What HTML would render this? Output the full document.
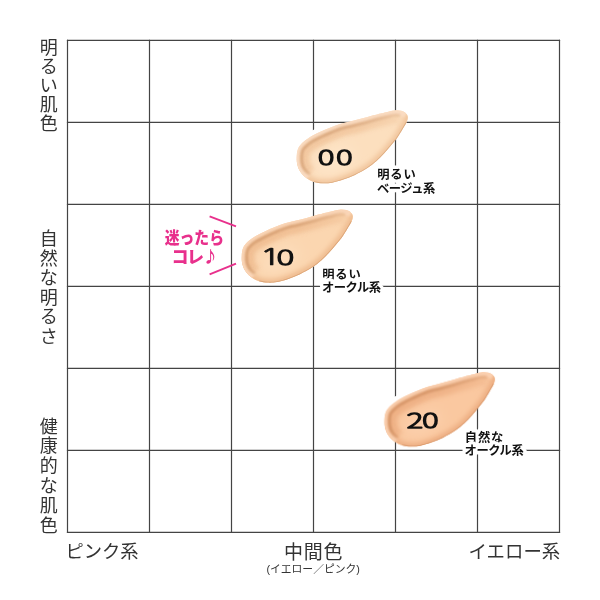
<!DOCTYPE html>
<html lang="ja"><head><meta charset="utf-8"><title>カラーチャート</title>
<style>
html,body{margin:0;padding:0;background:#fff;}
body{width:600px;height:600px;overflow:hidden;font-family:"Liberation Sans","Noto Sans CJK JP",sans-serif;}
svg{display:block}
text{font-family:"Liberation Sans","Noto Sans CJK JP",sans-serif;}
.ax{fill:#333;font-weight:400;}
.lb2{letter-spacing:-0.5px;}
.lb1{letter-spacing:0.8px;}
.lb{fill:#111;font-weight:700;font-size:12.3px;stroke:#fff;stroke-width:7px;paint-order:stroke fill;stroke-linejoin:round;}
.num{fill:#111;stroke:#111;stroke-width:1.9px;stroke-linejoin:round;vector-effect:non-scaling-stroke;font-family:"Noto Sans CJK JP","Liberation Sans",sans-serif;font-weight:100;font-size:20.5px;}
.num tspan{vector-effect:non-scaling-stroke;}
.one{stroke-width:0.8px;font-family:"NanumGothic","Liberation Sans",sans-serif;font-size:22.5px;font-weight:400;}
.pk{fill:#e8308c;font-weight:900;font-size:17px;stroke:#fff;stroke-width:3px;paint-order:stroke fill;stroke-linejoin:round;}
</style></head><body>
<svg width="600" height="600" viewBox="0 0 600 600">
<defs>
<clipPath id="cp"><path d="M296.7 158.0 C296.7 155.3 296.9 152.1 297.7 149.8 C298.4 147.5 299.4 146.0 301.2 144.0 C303.0 142.0 305.6 139.9 308.7 137.9 C311.8 135.9 316.3 133.8 319.8 132.1 C323.3 130.4 326.5 129.1 329.9 127.7 C333.3 126.3 336.6 125.0 340.0 123.9 C343.4 122.9 346.5 122.3 350.1 121.4 C353.7 120.5 357.8 119.6 361.7 118.6 C365.6 117.6 369.4 116.3 373.3 115.3 C377.2 114.3 381.4 113.2 384.9 112.4 C388.4 111.6 391.6 110.7 394.3 110.4 C397.0 110.1 399.4 110.3 401.3 110.8 C403.2 111.3 404.9 112.4 406.0 113.4 C407.1 114.4 407.7 115.4 407.8 116.9 C407.9 118.4 407.5 120.2 406.6 122.2 C405.7 124.2 404.1 126.5 402.5 129.2 C400.9 131.9 398.7 135.7 396.7 138.5 C394.7 141.3 392.6 143.5 390.5 146.0 C388.4 148.5 386.3 151.0 384.0 153.5 C381.7 156.0 379.3 158.5 376.5 161.0 C373.7 163.5 370.6 166.0 367.0 168.3 C363.4 170.6 358.9 173.0 355.0 174.9 C351.1 176.8 347.1 178.3 343.3 179.6 C339.5 180.9 335.4 182.1 332.0 182.7 C328.6 183.3 326.0 183.4 323.0 183.3 C320.0 183.2 316.7 182.8 314.0 182.0 C311.3 181.2 309.1 180.0 307.0 178.5 C304.9 177.0 302.8 175.1 301.2 173.0 C299.6 170.9 298.4 168.5 297.7 166.0 C296.9 163.5 296.7 160.7 296.7 158.0Z"/></clipPath>
<filter id="bl" x="-20%" y="-20%" width="140%" height="140%"><feGaussianBlur stdDeviation="2.5"/></filter>
<filter id="bl1" x="-20%" y="-20%" width="140%" height="140%"><feGaussianBlur stdDeviation="1.2"/></filter>
<linearGradient id="fg" gradientUnits="userSpaceOnUse" x1="296" y1="0" x2="404" y2="0">
<stop offset="0" stop-color="#fff"/><stop offset="0.5" stop-color="#eee"/><stop offset="0.8" stop-color="#aaa"/><stop offset="1" stop-color="#555"/></linearGradient>
<mask id="fade" maskUnits="userSpaceOnUse" x="270" y="85" width="160" height="110"><path d="M280 176 L280 92 L418 92 L410 128 L352 146 L324 160 L318 176 Z" fill="url(#fg)" filter="url(#bl4)"/></mask>
<filter id="bl4" x="-20%" y="-20%" width="140%" height="140%"><feGaussianBlur stdDeviation="4"/></filter>
<filter id="bl2b" x="-20%" y="-20%" width="140%" height="140%"><feGaussianBlur stdDeviation="2"/></filter>
<filter id="bl15" x="-20%" y="-20%" width="140%" height="140%"><feGaussianBlur stdDeviation="1.6"/></filter>
<filter id="bl08" x="-20%" y="-20%" width="140%" height="140%"><feGaussianBlur stdDeviation="0.8"/></filter>
<filter id="bl05" x="-20%" y="-20%" width="140%" height="140%"><feGaussianBlur stdDeviation="0.6"/></filter>
<filter id="soft" x="-5%" y="-5%" width="110%" height="110%"><feGaussianBlur stdDeviation="0.5"/></filter>
<filter id="bl2" x="-50%" y="-50%" width="200%" height="200%"><feGaussianBlur stdDeviation="7"/></filter>
</defs>
<rect width="600" height="600" fill="#fff"/>
<g stroke="#444" stroke-width="1.2" fill="none">
<line x1="67.50" y1="39.80" x2="67.50" y2="533.00"/>
<line x1="66.90" y1="40.40" x2="560.10" y2="40.40"/>
<line x1="149.50" y1="39.80" x2="149.50" y2="533.00"/>
<line x1="66.90" y1="122.40" x2="560.10" y2="122.40"/>
<line x1="231.50" y1="39.80" x2="231.50" y2="533.00"/>
<line x1="66.90" y1="204.40" x2="560.10" y2="204.40"/>
<line x1="313.50" y1="39.80" x2="313.50" y2="533.00"/>
<line x1="66.90" y1="286.40" x2="560.10" y2="286.40"/>
<line x1="395.50" y1="39.80" x2="395.50" y2="533.00"/>
<line x1="66.90" y1="368.40" x2="560.10" y2="368.40"/>
<line x1="477.50" y1="39.80" x2="477.50" y2="533.00"/>
<line x1="66.90" y1="450.40" x2="560.10" y2="450.40"/>
<line x1="559.50" y1="39.80" x2="559.50" y2="533.00"/>
<line x1="66.90" y1="532.40" x2="560.10" y2="532.40"/>
</g>
<text class="ax" x="48.7 48.7 48.7 48.7 48.7" y="54.2 73.1 91.9 110.8 129.6" text-anchor="middle" font-size="18">明るい肌色</text>
<text class="ax" x="48.7 48.7 48.7 48.7 48.7 48.7" y="245.3 264.8 284.3 303.8 323.3 342.8" text-anchor="middle" font-size="18">自然な明るさ</text>
<text class="ax" x="48.7 48.7 48.7 48.7 48.7 48.7" y="432.6 452.4 472.2 492.0 511.8 531.6" text-anchor="middle" font-size="18">健康的な肌色</text>
<text class="ax" x="65.4" y="558.3" font-size="18.3">ピンク系</text>
<text class="ax" x="313.6" y="559.2" font-size="19" text-anchor="middle" letter-spacing="0.8">中間色</text>
<text class="ax" x="313.2" y="572.5" font-size="10.8" text-anchor="middle">(イエロー／ピンク)</text>
<text class="ax" x="560.2" y="558.4" font-size="18.4" text-anchor="end">イエロー系</text>

<g transform="translate(0 0) rotate(0 296 158)">
<path d="M299.2 139.5 L306.7 133.4 L317.8 127.6 L319.8 132.1 L301.2 144.0 Z" fill="#fff"/>
<g filter="url(#soft)">
<path d="M296.7 158.0 C296.7 155.3 296.9 152.1 297.7 149.8 C298.4 147.5 299.4 146.0 301.2 144.0 C303.0 142.0 305.6 139.9 308.7 137.9 C311.8 135.9 316.3 133.8 319.8 132.1 C323.3 130.4 326.5 129.1 329.9 127.7 C333.3 126.3 336.6 125.0 340.0 123.9 C343.4 122.9 346.5 122.3 350.1 121.4 C353.7 120.5 357.8 119.6 361.7 118.6 C365.6 117.6 369.4 116.3 373.3 115.3 C377.2 114.3 381.4 113.2 384.9 112.4 C388.4 111.6 391.6 110.7 394.3 110.4 C397.0 110.1 399.4 110.3 401.3 110.8 C403.2 111.3 404.9 112.4 406.0 113.4 C407.1 114.4 407.7 115.4 407.8 116.9 C407.9 118.4 407.5 120.2 406.6 122.2 C405.7 124.2 404.1 126.5 402.5 129.2 C400.9 131.9 398.7 135.7 396.7 138.5 C394.7 141.3 392.6 143.5 390.5 146.0 C388.4 148.5 386.3 151.0 384.0 153.5 C381.7 156.0 379.3 158.5 376.5 161.0 C373.7 163.5 370.6 166.0 367.0 168.3 C363.4 170.6 358.9 173.0 355.0 174.9 C351.1 176.8 347.1 178.3 343.3 179.6 C339.5 180.9 335.4 182.1 332.0 182.7 C328.6 183.3 326.0 183.4 323.0 183.3 C320.0 183.2 316.7 182.8 314.0 182.0 C311.3 181.2 309.1 180.0 307.0 178.5 C304.9 177.0 302.8 175.1 301.2 173.0 C299.6 170.9 298.4 168.5 297.7 166.0 C296.9 163.5 296.7 160.7 296.7 158.0Z" fill="#fcdfbe"/>
<g clip-path="url(#cp)">
<path d="M406.0 113.4 C406.3 114.0 407.7 115.4 407.8 116.9 C407.9 118.4 407.5 120.2 406.6 122.2 C405.7 124.2 404.1 126.5 402.5 129.2 C400.9 131.9 398.7 135.7 396.7 138.5 C394.7 141.3 392.6 143.5 390.5 146.0 C388.4 148.5 386.3 151.0 384.0 153.5 C381.7 156.0 379.3 158.5 376.5 161.0 C373.7 163.5 370.6 166.0 367.0 168.3 C363.4 170.6 358.9 173.0 355.0 174.9 C351.1 176.8 347.1 178.3 343.3 179.6 C339.5 180.9 335.4 182.1 332.0 182.7 C328.6 183.3 326.0 183.4 323.0 183.3 C320.0 183.2 316.7 182.8 314.0 182.0 C311.3 181.2 309.1 180.0 307.0 178.5 C304.9 177.0 302.8 175.1 301.2 173.0 C299.6 170.9 298.4 168.5 297.7 166.0 C296.9 163.5 296.9 159.3 296.7 158.0" fill="none" stroke="#f1c59c" stroke-width="8" filter="url(#bl)"/>
<path d="M307.0 178.5 C306.0 177.6 302.8 175.1 301.2 173.0 C299.6 170.9 298.4 168.5 297.7 166.0 C296.9 163.5 296.7 160.7 296.7 158.0 C296.7 155.3 296.9 152.1 297.7 149.8 C298.4 147.5 299.4 146.0 301.2 144.0 C303.0 142.0 305.6 139.9 308.7 137.9 C311.8 135.9 316.3 133.8 319.8 132.1 C323.3 130.4 326.5 129.1 329.9 127.7 C333.3 126.3 336.6 125.0 340.0 123.9 C343.4 122.9 346.5 122.3 350.1 121.4 C353.7 120.5 357.8 119.6 361.7 118.6 C365.6 117.6 369.4 116.3 373.3 115.3 C377.2 114.3 381.4 113.2 384.9 112.4 C388.4 111.6 391.6 110.7 394.3 110.4 C397.0 110.1 399.4 110.3 401.3 110.8 C403.2 111.3 405.2 113.0 406.0 113.4" fill="none" stroke="#fadcc2" stroke-width="9" filter="url(#bl1)"/>
<g mask="url(#fade)"><path d="M311.9 171.5 C311.2 170.9 309.0 169.3 308.0 167.9 C307.0 166.6 306.3 165.2 305.8 163.6 C305.4 161.9 305.2 159.9 305.2 158.0 C305.2 156.1 305.4 153.8 305.8 152.4 C306.2 151.0 306.2 151.0 307.4 149.8 C308.7 148.5 310.6 146.7 313.3 145.1 C316.0 143.4 320.2 141.3 323.5 139.8 C326.8 138.2 329.9 136.9 333.1 135.6 C336.3 134.3 339.4 133.0 342.5 132.0 C345.7 131.0 348.6 130.5 352.1 129.7 C355.7 128.8 360.0 127.8 363.9 126.8 C367.8 125.8 371.7 124.5 375.5 123.5 C379.3 122.5 383.6 121.5 386.8 120.7 C390.1 119.9 393.1 119.1 395.1 118.9 C397.2 118.6 398.5 119.0 399.2 119.0" fill="none" stroke="#f1c59c" stroke-width="9" filter="url(#bl2b)" opacity="0.9"/>
<path d="M309.9 174.4 C309.1 173.7 306.4 171.7 305.2 170.0 C304.0 168.4 303.1 166.6 302.5 164.6 C301.9 162.6 301.7 160.2 301.7 158.0 C301.7 155.8 301.9 153.1 302.5 151.3 C303.0 149.6 303.4 148.9 304.9 147.4 C306.4 145.9 308.5 143.9 311.4 142.1 C314.2 140.3 318.6 138.2 322.0 136.6 C325.4 135.0 328.5 133.7 331.8 132.3 C335.0 131.0 338.2 129.7 341.5 128.7 C344.7 127.7 347.7 127.1 351.3 126.3 C354.9 125.4 359.1 124.5 363.0 123.4 C366.9 122.4 370.7 121.2 374.6 120.1 C378.4 119.1 382.7 118.1 386.0 117.3 C389.4 116.5 392.4 115.6 394.8 115.4 C397.1 115.1 399.2 115.6 400.1 115.6" fill="none" stroke="#d8a57a" stroke-width="2.8" filter="url(#bl08)"/></g>
<path d="M406.6 122.2 C405.9 123.4 404.1 126.5 402.5 129.2 C400.9 131.9 398.7 135.7 396.7 138.5 C394.7 141.3 392.6 143.5 390.5 146.0 C388.4 148.5 386.3 151.0 384.0 153.5 C381.7 156.0 379.3 158.5 376.5 161.0 C373.7 163.5 370.6 166.0 367.0 168.3 C363.4 170.6 358.9 173.0 355.0 174.9 C351.1 176.8 347.1 178.3 343.3 179.6 C339.5 180.9 335.4 182.1 332.0 182.7 C328.6 183.3 326.0 183.4 323.0 183.3 C320.0 183.2 315.5 182.2 314.0 182.0" fill="none" stroke="#d8a57a" stroke-width="1.6" filter="url(#bl05)" opacity="0.8"/>
<ellipse cx="335" cy="160" rx="20" ry="9" fill="#fee7cc" filter="url(#bl2)" transform="rotate(-25 335 160)"/>
</g></g>
</g>
<g transform="translate(-55.0 99.3) rotate(0 296 158)">
<path d="M299.2 139.5 L306.7 133.4 L317.8 127.6 L319.8 132.1 L301.2 144.0 Z" fill="#fff"/>
<g filter="url(#soft)">
<path d="M296.7 158.0 C296.7 155.3 296.9 152.1 297.7 149.8 C298.4 147.5 299.4 146.0 301.2 144.0 C303.0 142.0 305.6 139.9 308.7 137.9 C311.8 135.9 316.3 133.8 319.8 132.1 C323.3 130.4 326.5 129.1 329.9 127.7 C333.3 126.3 336.6 125.0 340.0 123.9 C343.4 122.9 346.5 122.3 350.1 121.4 C353.7 120.5 357.8 119.6 361.7 118.6 C365.6 117.6 369.4 116.3 373.3 115.3 C377.2 114.3 381.4 113.2 384.9 112.4 C388.4 111.6 391.6 110.7 394.3 110.4 C397.0 110.1 399.4 110.3 401.3 110.8 C403.2 111.3 404.9 112.4 406.0 113.4 C407.1 114.4 407.7 115.4 407.8 116.9 C407.9 118.4 407.5 120.2 406.6 122.2 C405.7 124.2 404.1 126.5 402.5 129.2 C400.9 131.9 398.7 135.7 396.7 138.5 C394.7 141.3 392.6 143.5 390.5 146.0 C388.4 148.5 386.3 151.0 384.0 153.5 C381.7 156.0 379.3 158.5 376.5 161.0 C373.7 163.5 370.6 166.0 367.0 168.3 C363.4 170.6 358.9 173.0 355.0 174.9 C351.1 176.8 347.1 178.3 343.3 179.6 C339.5 180.9 335.4 182.1 332.0 182.7 C328.6 183.3 326.0 183.4 323.0 183.3 C320.0 183.2 316.7 182.8 314.0 182.0 C311.3 181.2 309.1 180.0 307.0 178.5 C304.9 177.0 302.8 175.1 301.2 173.0 C299.6 170.9 298.4 168.5 297.7 166.0 C296.9 163.5 296.7 160.7 296.7 158.0Z" fill="#fbd6b0"/>
<g clip-path="url(#cp)">
<path d="M406.0 113.4 C406.3 114.0 407.7 115.4 407.8 116.9 C407.9 118.4 407.5 120.2 406.6 122.2 C405.7 124.2 404.1 126.5 402.5 129.2 C400.9 131.9 398.7 135.7 396.7 138.5 C394.7 141.3 392.6 143.5 390.5 146.0 C388.4 148.5 386.3 151.0 384.0 153.5 C381.7 156.0 379.3 158.5 376.5 161.0 C373.7 163.5 370.6 166.0 367.0 168.3 C363.4 170.6 358.9 173.0 355.0 174.9 C351.1 176.8 347.1 178.3 343.3 179.6 C339.5 180.9 335.4 182.1 332.0 182.7 C328.6 183.3 326.0 183.4 323.0 183.3 C320.0 183.2 316.7 182.8 314.0 182.0 C311.3 181.2 309.1 180.0 307.0 178.5 C304.9 177.0 302.8 175.1 301.2 173.0 C299.6 170.9 298.4 168.5 297.7 166.0 C296.9 163.5 296.9 159.3 296.7 158.0" fill="none" stroke="#efbc90" stroke-width="8" filter="url(#bl)"/>
<path d="M307.0 178.5 C306.0 177.6 302.8 175.1 301.2 173.0 C299.6 170.9 298.4 168.5 297.7 166.0 C296.9 163.5 296.7 160.7 296.7 158.0 C296.7 155.3 296.9 152.1 297.7 149.8 C298.4 147.5 299.4 146.0 301.2 144.0 C303.0 142.0 305.6 139.9 308.7 137.9 C311.8 135.9 316.3 133.8 319.8 132.1 C323.3 130.4 326.5 129.1 329.9 127.7 C333.3 126.3 336.6 125.0 340.0 123.9 C343.4 122.9 346.5 122.3 350.1 121.4 C353.7 120.5 357.8 119.6 361.7 118.6 C365.6 117.6 369.4 116.3 373.3 115.3 C377.2 114.3 381.4 113.2 384.9 112.4 C388.4 111.6 391.6 110.7 394.3 110.4 C397.0 110.1 399.4 110.3 401.3 110.8 C403.2 111.3 405.2 113.0 406.0 113.4" fill="none" stroke="#fad6b8" stroke-width="9" filter="url(#bl1)"/>
<g mask="url(#fade)"><path d="M311.9 171.5 C311.2 170.9 309.0 169.3 308.0 167.9 C307.0 166.6 306.3 165.2 305.8 163.6 C305.4 161.9 305.2 159.9 305.2 158.0 C305.2 156.1 305.4 153.8 305.8 152.4 C306.2 151.0 306.2 151.0 307.4 149.8 C308.7 148.5 310.6 146.7 313.3 145.1 C316.0 143.4 320.2 141.3 323.5 139.8 C326.8 138.2 329.9 136.9 333.1 135.6 C336.3 134.3 339.4 133.0 342.5 132.0 C345.7 131.0 348.6 130.5 352.1 129.7 C355.7 128.8 360.0 127.8 363.9 126.8 C367.8 125.8 371.7 124.5 375.5 123.5 C379.3 122.5 383.6 121.5 386.8 120.7 C390.1 119.9 393.1 119.1 395.1 118.9 C397.2 118.6 398.5 119.0 399.2 119.0" fill="none" stroke="#efbc90" stroke-width="9" filter="url(#bl2b)" opacity="0.9"/>
<path d="M309.9 174.4 C309.1 173.7 306.4 171.7 305.2 170.0 C304.0 168.4 303.1 166.6 302.5 164.6 C301.9 162.6 301.7 160.2 301.7 158.0 C301.7 155.8 301.9 153.1 302.5 151.3 C303.0 149.6 303.4 148.9 304.9 147.4 C306.4 145.9 308.5 143.9 311.4 142.1 C314.2 140.3 318.6 138.2 322.0 136.6 C325.4 135.0 328.5 133.7 331.8 132.3 C335.0 131.0 338.2 129.7 341.5 128.7 C344.7 127.7 347.7 127.1 351.3 126.3 C354.9 125.4 359.1 124.5 363.0 123.4 C366.9 122.4 370.7 121.2 374.6 120.1 C378.4 119.1 382.7 118.1 386.0 117.3 C389.4 116.5 392.4 115.6 394.8 115.4 C397.1 115.1 399.2 115.6 400.1 115.6" fill="none" stroke="#d59d70" stroke-width="2.8" filter="url(#bl08)"/></g>
<path d="M406.6 122.2 C405.9 123.4 404.1 126.5 402.5 129.2 C400.9 131.9 398.7 135.7 396.7 138.5 C394.7 141.3 392.6 143.5 390.5 146.0 C388.4 148.5 386.3 151.0 384.0 153.5 C381.7 156.0 379.3 158.5 376.5 161.0 C373.7 163.5 370.6 166.0 367.0 168.3 C363.4 170.6 358.9 173.0 355.0 174.9 C351.1 176.8 347.1 178.3 343.3 179.6 C339.5 180.9 335.4 182.1 332.0 182.7 C328.6 183.3 326.0 183.4 323.0 183.3 C320.0 183.2 315.5 182.2 314.0 182.0" fill="none" stroke="#d59d70" stroke-width="1.6" filter="url(#bl05)" opacity="0.8"/>
<ellipse cx="335" cy="160" rx="20" ry="9" fill="#fddfbf" filter="url(#bl2)" transform="rotate(-25 335 160)"/>
</g></g>
</g>
<g transform="translate(87.8 263.7) rotate(-1 296 158)">
<path d="M299.2 139.5 L306.7 133.4 L317.8 127.6 L319.8 132.1 L301.2 144.0 Z" fill="#fff"/>
<g filter="url(#soft)">
<path d="M296.7 158.0 C296.7 155.3 296.9 152.1 297.7 149.8 C298.4 147.5 299.4 146.0 301.2 144.0 C303.0 142.0 305.6 139.9 308.7 137.9 C311.8 135.9 316.3 133.8 319.8 132.1 C323.3 130.4 326.5 129.1 329.9 127.7 C333.3 126.3 336.6 125.0 340.0 123.9 C343.4 122.9 346.5 122.3 350.1 121.4 C353.7 120.5 357.8 119.6 361.7 118.6 C365.6 117.6 369.4 116.3 373.3 115.3 C377.2 114.3 381.4 113.2 384.9 112.4 C388.4 111.6 391.6 110.7 394.3 110.4 C397.0 110.1 399.4 110.3 401.3 110.8 C403.2 111.3 404.9 112.4 406.0 113.4 C407.1 114.4 407.7 115.4 407.8 116.9 C407.9 118.4 407.5 120.2 406.6 122.2 C405.7 124.2 404.1 126.5 402.5 129.2 C400.9 131.9 398.7 135.7 396.7 138.5 C394.7 141.3 392.6 143.5 390.5 146.0 C388.4 148.5 386.3 151.0 384.0 153.5 C381.7 156.0 379.3 158.5 376.5 161.0 C373.7 163.5 370.6 166.0 367.0 168.3 C363.4 170.6 358.9 173.0 355.0 174.9 C351.1 176.8 347.1 178.3 343.3 179.6 C339.5 180.9 335.4 182.1 332.0 182.7 C328.6 183.3 326.0 183.4 323.0 183.3 C320.0 183.2 316.7 182.8 314.0 182.0 C311.3 181.2 309.1 180.0 307.0 178.5 C304.9 177.0 302.8 175.1 301.2 173.0 C299.6 170.9 298.4 168.5 297.7 166.0 C296.9 163.5 296.7 160.7 296.7 158.0Z" fill="#fac8a0"/>
<g clip-path="url(#cp)">
<path d="M406.0 113.4 C406.3 114.0 407.7 115.4 407.8 116.9 C407.9 118.4 407.5 120.2 406.6 122.2 C405.7 124.2 404.1 126.5 402.5 129.2 C400.9 131.9 398.7 135.7 396.7 138.5 C394.7 141.3 392.6 143.5 390.5 146.0 C388.4 148.5 386.3 151.0 384.0 153.5 C381.7 156.0 379.3 158.5 376.5 161.0 C373.7 163.5 370.6 166.0 367.0 168.3 C363.4 170.6 358.9 173.0 355.0 174.9 C351.1 176.8 347.1 178.3 343.3 179.6 C339.5 180.9 335.4 182.1 332.0 182.7 C328.6 183.3 326.0 183.4 323.0 183.3 C320.0 183.2 316.7 182.8 314.0 182.0 C311.3 181.2 309.1 180.0 307.0 178.5 C304.9 177.0 302.8 175.1 301.2 173.0 C299.6 170.9 298.4 168.5 297.7 166.0 C296.9 163.5 296.9 159.3 296.7 158.0" fill="none" stroke="#edae82" stroke-width="8" filter="url(#bl)"/>
<path d="M307.0 178.5 C306.0 177.6 302.8 175.1 301.2 173.0 C299.6 170.9 298.4 168.5 297.7 166.0 C296.9 163.5 296.7 160.7 296.7 158.0 C296.7 155.3 296.9 152.1 297.7 149.8 C298.4 147.5 299.4 146.0 301.2 144.0 C303.0 142.0 305.6 139.9 308.7 137.9 C311.8 135.9 316.3 133.8 319.8 132.1 C323.3 130.4 326.5 129.1 329.9 127.7 C333.3 126.3 336.6 125.0 340.0 123.9 C343.4 122.9 346.5 122.3 350.1 121.4 C353.7 120.5 357.8 119.6 361.7 118.6 C365.6 117.6 369.4 116.3 373.3 115.3 C377.2 114.3 381.4 113.2 384.9 112.4 C388.4 111.6 391.6 110.7 394.3 110.4 C397.0 110.1 399.4 110.3 401.3 110.8 C403.2 111.3 405.2 113.0 406.0 113.4" fill="none" stroke="#fad0b0" stroke-width="9" filter="url(#bl1)"/>
<g mask="url(#fade)"><path d="M311.9 171.5 C311.2 170.9 309.0 169.3 308.0 167.9 C307.0 166.6 306.3 165.2 305.8 163.6 C305.4 161.9 305.2 159.9 305.2 158.0 C305.2 156.1 305.4 153.8 305.8 152.4 C306.2 151.0 306.2 151.0 307.4 149.8 C308.7 148.5 310.6 146.7 313.3 145.1 C316.0 143.4 320.2 141.3 323.5 139.8 C326.8 138.2 329.9 136.9 333.1 135.6 C336.3 134.3 339.4 133.0 342.5 132.0 C345.7 131.0 348.6 130.5 352.1 129.7 C355.7 128.8 360.0 127.8 363.9 126.8 C367.8 125.8 371.7 124.5 375.5 123.5 C379.3 122.5 383.6 121.5 386.8 120.7 C390.1 119.9 393.1 119.1 395.1 118.9 C397.2 118.6 398.5 119.0 399.2 119.0" fill="none" stroke="#edae82" stroke-width="9" filter="url(#bl2b)" opacity="0.9"/>
<path d="M309.9 174.4 C309.1 173.7 306.4 171.7 305.2 170.0 C304.0 168.4 303.1 166.6 302.5 164.6 C301.9 162.6 301.7 160.2 301.7 158.0 C301.7 155.8 301.9 153.1 302.5 151.3 C303.0 149.6 303.4 148.9 304.9 147.4 C306.4 145.9 308.5 143.9 311.4 142.1 C314.2 140.3 318.6 138.2 322.0 136.6 C325.4 135.0 328.5 133.7 331.8 132.3 C335.0 131.0 338.2 129.7 341.5 128.7 C344.7 127.7 347.7 127.1 351.3 126.3 C354.9 125.4 359.1 124.5 363.0 123.4 C366.9 122.4 370.7 121.2 374.6 120.1 C378.4 119.1 382.7 118.1 386.0 117.3 C389.4 116.5 392.4 115.6 394.8 115.4 C397.1 115.1 399.2 115.6 400.1 115.6" fill="none" stroke="#d29062" stroke-width="2.8" filter="url(#bl08)"/></g>
<path d="M406.6 122.2 C405.9 123.4 404.1 126.5 402.5 129.2 C400.9 131.9 398.7 135.7 396.7 138.5 C394.7 141.3 392.6 143.5 390.5 146.0 C388.4 148.5 386.3 151.0 384.0 153.5 C381.7 156.0 379.3 158.5 376.5 161.0 C373.7 163.5 370.6 166.0 367.0 168.3 C363.4 170.6 358.9 173.0 355.0 174.9 C351.1 176.8 347.1 178.3 343.3 179.6 C339.5 180.9 335.4 182.1 332.0 182.7 C328.6 183.3 326.0 183.4 323.0 183.3 C320.0 183.2 315.5 182.2 314.0 182.0" fill="none" stroke="#d29062" stroke-width="1.6" filter="url(#bl05)" opacity="0.8"/>
<ellipse cx="335" cy="160" rx="20" ry="9" fill="#fcd1af" filter="url(#bl2)" transform="rotate(-25 335 160)"/>
</g></g>
</g>

<text class="num" transform="translate(318.0 165.3) scale(1.52 1)" x="0 12.0">00</text>
<text class="num" transform="translate(259.4 264.8) scale(1.62 1)"><tspan class="one">1</tspan><tspan dx="-2.9">0</tspan></text>
<text class="num" transform="translate(406.8 428.3) scale(1.52 1)" x="0 10.1">20</text>

<text class="lb lb1" x="377.2" y="178.6">明るい</text>
<text class="lb lb2" x="377.0" y="192.5">ベージュ系</text>
<text class="lb lb1" x="322.2" y="278.5">明るい</text>
<text class="lb lb2" x="322.0" y="291.8">オークル系</text>
<text class="lb lb1" x="464.8" y="442.0">自然な</text>
<text class="lb lb2" x="464.6" y="455.4">オークル系</text>

<g stroke="#e8308c" stroke-width="1.9">
<line x1="209.6" y1="216.3" x2="236" y2="226.3"/>
<line x1="209.6" y1="274.3" x2="236" y2="263.7"/>
</g>
<text class="pk" transform="translate(164.8 244.2) scale(0.87 1)">迷ったら</text>
<text class="pk" x="171.6" y="263.4" letter-spacing="-1.6">コレ<tspan font-size="26" dx="1.6" dy="0.8">♪</tspan></text>
</svg>
</body></html>
